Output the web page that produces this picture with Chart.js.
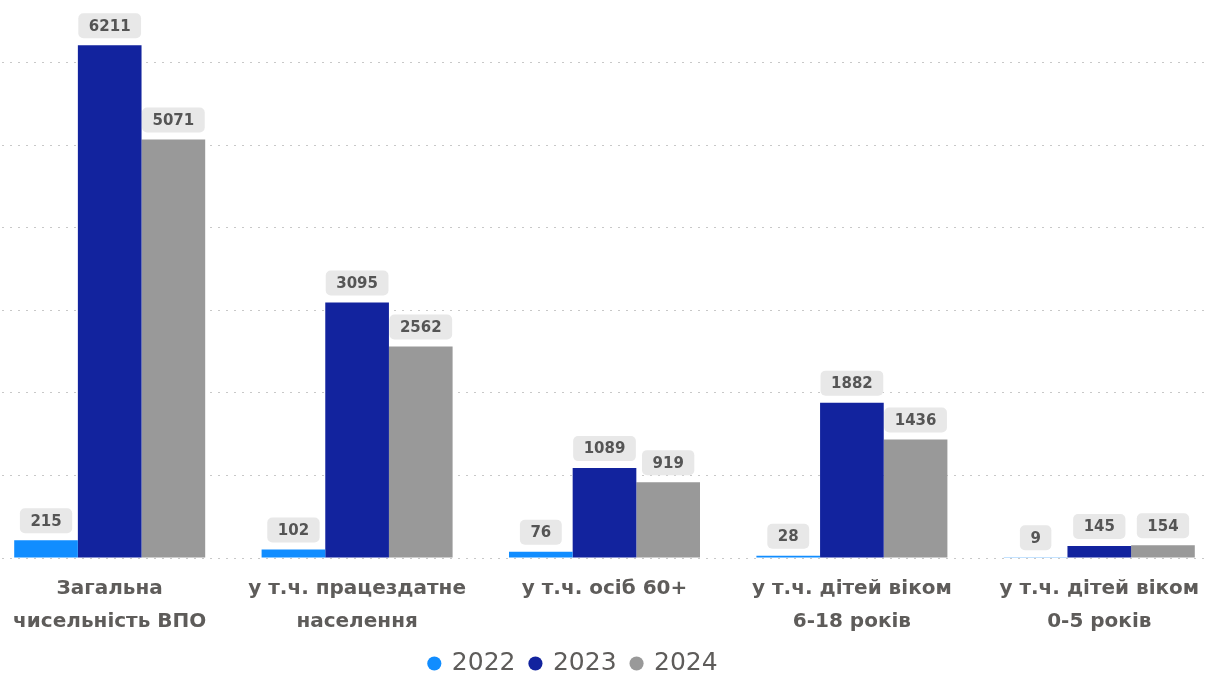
<!DOCTYPE html>
<html>
<head>
<meta charset="utf-8">
<script src="https://cdn.jsdelivr.net/npm/chart.js@4/dist/chart.umd.min.js"></script>
<style>
  html, body { margin:0; padding:0; background:#fff; overflow:hidden; }
  #wrap { position:absolute; left:-14px; top:0; width:1237px; height:675px; }
</style>
</head>
<body>
<div id="wrap"><canvas id="bars"></canvas></div>
<script>
const CATEGORIES = [
  ['Загальна', 'чисельність ВПО'],
  ['у т.ч. працездатне', 'населення'],
  'у т.ч. осіб 60+',
  ['у т.ч. дітей віком', '6-18 років'],
  ['у т.ч. дітей віком', '0-5 років'],
];
const YEARS = ['2022', '2023', '2024'];
const COLORS = ['#118DFF', '#12239E', '#999999'];
const V2022 = [215, 102, 76, 28, 9];
const V2023 = [6211, 3095, 1089, 1882, 145];
const V2024 = [5071, 2562, 919, 1436, 154];
const Y_TICKS = [0, 1000, 2000, 3000, 4000, 5000, 6000];

const FONT = "'DejaVu Sans', sans-serif";
const TEXT = '#5e5c5a';

// подписи значений в серых плашках над столбцами
const valueBoxes = {
  id: 'valueBoxes',
  afterDatasetsDraw(chart){
    const ctx = chart.ctx;
    ctx.save();
    ctx.font = `bold 15px ${FONT}`;
    ctx.textAlign = 'center';
    ctx.textBaseline = 'middle';
    chart.data.datasets.forEach((ds, i) => {
      const meta = chart.getDatasetMeta(i);
      meta.data.forEach((bar, j) => {
        const txt = String(ds.data[j]);
        const w = ctx.measureText(txt).width + 21;
        const h = 25;
        const x = bar.x - w/2;
        const y = bar.y - 7 - h;
        ctx.fillStyle = '#e8e8e8';
        ctx.beginPath();
        ctx.roundRect(x, y, w, h, 5);
        ctx.fill();
        ctx.fillStyle = '#555555';
        ctx.fillText(txt, bar.x, y + h/2 + 1);
      });
    });
    ctx.restore();
  }
};

// легенда чуть левее центра, как в оригинале
const legendShift = {
  id: 'legendShift',
  afterLayout(chart){
    if (chart.legend) chart.legend.left -= 62;
  }
};

function main(){
  const series = [V2022, V2023, V2024];
  new Chart(document.getElementById('bars'), {
    type: 'bar',
    data: {
      labels: CATEGORIES,
      datasets: YEARS.map((y, i) => ({
        label: y,
        data: series[i],
        backgroundColor: COLORS[i],
        borderWidth: 0,
        categoryPercentage: 0.772,
        barPercentage: 1,
      }))
    },
    options: {
      responsive: true,
      maintainAspectRatio: false,
      animation: false,
      layout: { padding: { top: 0, left: 0, right: 0, bottom: -11 } },
      plugins: {
        tooltip: { enabled: false },
        legend: {
          position: 'bottom',
          labels: {
            usePointStyle: true,
            pointStyle: 'circle',
            boxWidth: 10,
            boxHeight: 10,
            padding: 15,
            color: TEXT,
            font: { family: FONT, size: 25 },
          }
        }
      },
      scales: {
        x: {
          grid: { display: false, drawTicks: false },
          border: { display: false },
          afterFit(scale){ scale.height -= 16; },
          ticks: {
            color: TEXT,
            font: { family: FONT, size: 20, weight: 'bold', lineHeight: 1.65 },
            padding: 14,
            maxRotation: 0,
            autoSkip: false,
          }
        },
        y: {
          min: 0,
          max: 6760,
          afterBuildTicks(scale){ scale.ticks = Y_TICKS.map(v => ({ value: v })); },
          ticks: { display: false },
          grid: { color: '#c8c8c8', lineWidth: 1, drawTicks: false },
          border: { display: false, dash: [2, 6] },
        }
      }
    },
    plugins: [valueBoxes, legendShift]
  });
}

document.addEventListener('DOMContentLoaded', main);
</script>
</body>
</html>
